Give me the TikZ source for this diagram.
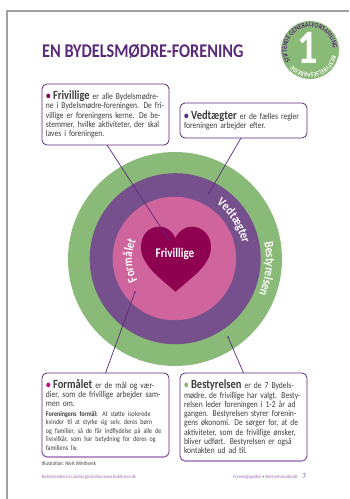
\documentclass[tikz,border=0pt]{standalone}
\usepackage{fontspec}
\setmainfont[FakeStretch=0.84]{Carlito}
\usetikzlibrary{decorations.text}
\definecolor{ringgreen}{HTML}{8ABA78}
\definecolor{ringpurple}{HTML}{76508C}
\definecolor{ringpink}{HTML}{D0649C}
\definecolor{heartred}{HTML}{8E0050}
\definecolor{bulletpink}{HTML}{C8007E}
\definecolor{linepurple}{HTML}{5A2A7A}
\definecolor{bodygray}{HTML}{3C3C3C}
\definecolor{footpurple}{HTML}{9A6AB0}
\newcommand{\boxhead}[2]{{\color{#1}\fontsize{11}{9}\selectfont\textbf{•}}\hspace{2.5pt}{\fontsize{12.5}{9}\selectfont\textbf{#2}}}
\tikzset{
    infobox/.style={draw=linepurple, line width=0.8pt, fill=white, rounded corners=5pt, align=left,
        anchor=center, inner sep=0pt, outer sep=0pt, text=bodygray, font=\fontsize{9}{9.3}\selectfont},
    pointer/.style={draw=linepurple, line width=0.7pt},
    ring/.style={circle, inner sep=0pt}
}
\begin{document}
\begin{tikzpicture}[x=1pt, y=1pt]
    \useasboundingbox (0, 0) rectangle (349, 499);

    % Page edge
    \draw[gray!75, line width=2pt] (7, 0) -- (7, 488) -- (349, 488);

    % Title
    \node[anchor=west, inner sep=0pt, text=linepurple, font=\fontsize{19.4}{20}\bfseries] (title) at (42, 448) {EN BYDELSMØDRE-FORENING};

    % Badge in the corner
    \node[ring, fill=ringgreen, minimum size=58] (badge) at (310, 449) {};
    \node[inner sep=0pt, text=white, font=\fontsize{48}{48}\bfseries] (badgenum) at (308, 451) {1};
    \path[decorate, decoration={text along path, text align=center, text={|\fontsize{7}{7}\bfseries\color{linepurple}|STIFTENDE GENERALFORSAMLING}}]
        (310, 449) ++(235:23) arc (235:-20:23);
    \path[decorate, decoration={text along path, text align=center, text={|\fontsize{6.5}{7}\bfseries\color{white}|BESTYRELSESARBEJDE}}]
        (310, 449) ++(-3:23) arc (-3:-150:23);

    % Rings, largest first
    \foreach \n/\x/\y/\d/\c in {ringouter/175/240/214/ringgreen, ringmiddle/175.2/240.3/171/ringpurple, ringinner/174.4/240.5/123.5/ringpink}
    \node[ring, fill=\c, minimum size=\d] (\n) at (\x, \y) {};

    % Heart
    \draw[fill=heartred, draw=none] (175.5, 207.3)
        .. controls (160, 221) and (141, 234) .. (141, 252)
        .. controls (141, 264) and (149, 272.3) .. (159, 272.3)
        .. controls (167, 272.3) and (172, 268) .. (175.5, 261)
        .. controls (179, 268) and (184, 272.3) .. (192, 272.3)
        .. controls (202, 272.3) and (211, 264) .. (211, 252)
        .. controls (211, 234) and (191, 221) .. (175.5, 207.3);
    \node[inner sep=0pt, text=white, font=\fontsize{13.2}{14}\bfseries] (heartlabel) at (175, 245.5) {Frivillige};

    % Ring labels
    \path[decorate, decoration={text along path, text align=center, text={|\fontsize{13}{14}\bfseries\color{white}|Vedtægter}}]
        (175, 240) ++(78:69) arc (78:-12:69);
    \path[decorate, decoration={text along path, text align=center, text={|\fontsize{13}{14}\bfseries\color{white}|Bestyrelsen}}]
        (175, 240) ++(40:91) arc (40:-52:91);
    \path[decorate, decoration={text along path, text align=center, text={|\fontsize{13}{14}\bfseries\color{white}|Formålet}}]
        (175, 240) ++(247:43) arc (247:117:43);

    % Free ends of the pointers
    \coordinate (endfrivillige) at (169, 259);
    \coordinate (endvedtaegter) at (209, 306);
    \coordinate (endformaal) at (135, 207);
    \coordinate (endbestyrelse) at (228, 162);
    \foreach \e in {endfrivillige, endvedtaegter, endformaal, endbestyrelse}
    \fill[linepurple] (\e) circle (0.9);

    % Text boxes
    \node[infobox, minimum width=127, minimum height=61, text width=119] (boxfrivillige) at (105.5, 384.5) {%
        \boxhead{heartred}{Frivillige} er alle Bydelsmødre-\\
        ne i Bydelsmødre-foreningen. De fri-\\
        villige er foreningens kerne. De be-\\
        stemmer, hvilke aktiviteter, der skal\\
        laves i foreningen.};
    \node[infobox, minimum width=127, minimum height=35, text width=119] (boxvedtaegter) at (243.5, 378.5) {%
        \boxhead{linepurple}{Vedtægter} er de fælles regler\\
        foreningen arbejder efter.};
    \node[infobox, minimum width=127, minimum height=84, text width=119] (boxformaal) at (105.5, 84) {%
        \boxhead{bulletpink}{Formålet} er de mål og vær-\\
        dier, som de frivillige arbejder sam-\\
        men om.\\[1.5pt]
        {\fontsize{7.2}{8.3}\selectfont\textbf{Foreningens formål:} At støtte isolerede\\
        kvinder til at styrke sig selv, deres børn\\
        og familier, så de får indflydelse på alle de\\
        livsvilkår, som har betydning for deres og\\
        familiens liv.}};
    \node[infobox, minimum width=127, minimum height=88, text width=119] (boxbestyrelse) at (243.5, 82) {%
        \boxhead{ringgreen}{Bestyrelsen} er de 7 Bydels-\\
        mødre, de frivillige har valgt. Besty-\\
        relsen leder foreningen i 1-2 år ad\\
        gangen. Bestyrelsen styrer forenin-\\
        gens økonomi. De sørger for, at de\\
        aktiviteter, som de frivillige ønsker,\\
        bliver udført. Bestyrelsen er også\\
        kontakten ud ad til.};

    % Lower boxes have a paler bottom edge
    \foreach \b in {boxformaal, boxbestyrelse}
    \draw[footpurple, line width=0.8pt, rounded corners=5pt] ([yshift=5]\b.south west) -- (\b.south west) -- (\b.south east) -- ([yshift=5]\b.south east);

    % Pointers from the boxes
    \draw[pointer] ([xshift=1.5]boxfrivillige.south) -- (endfrivillige);
    \draw[pointer] ([xshift=-2.5]boxvedtaegter.south) -- (endvedtaegter);
    \draw[pointer] (boxformaal.north) -- (endformaal);
    \draw[pointer] (boxbestyrelse.north) -- (endbestyrelse);

    % Small print
    \node[anchor=west, inner sep=0pt, text=bodygray, font=\fontsize{5.6}{6}\selectfont] (credit) at (42, 35) {Illustration: Niels Wintherek};
    \node[anchor=west, inner sep=0pt, text=footpurple, font=\fontsize{5}{5}\selectfont] (footleft) at (42, 22) {Bydelsmødrenes Landsorganisation www.bydelsmor.dk};
    \node[anchor=east, inner sep=0pt, text=footpurple, font=\fontsize{5}{5}\selectfont] (footright) at (306, 22) {Foreningsguiden • Bestyrelsesarbejde\quad{\fontsize{7}{7}\selectfont\color{linepurple}7}};
\end{tikzpicture}
\end{document}
